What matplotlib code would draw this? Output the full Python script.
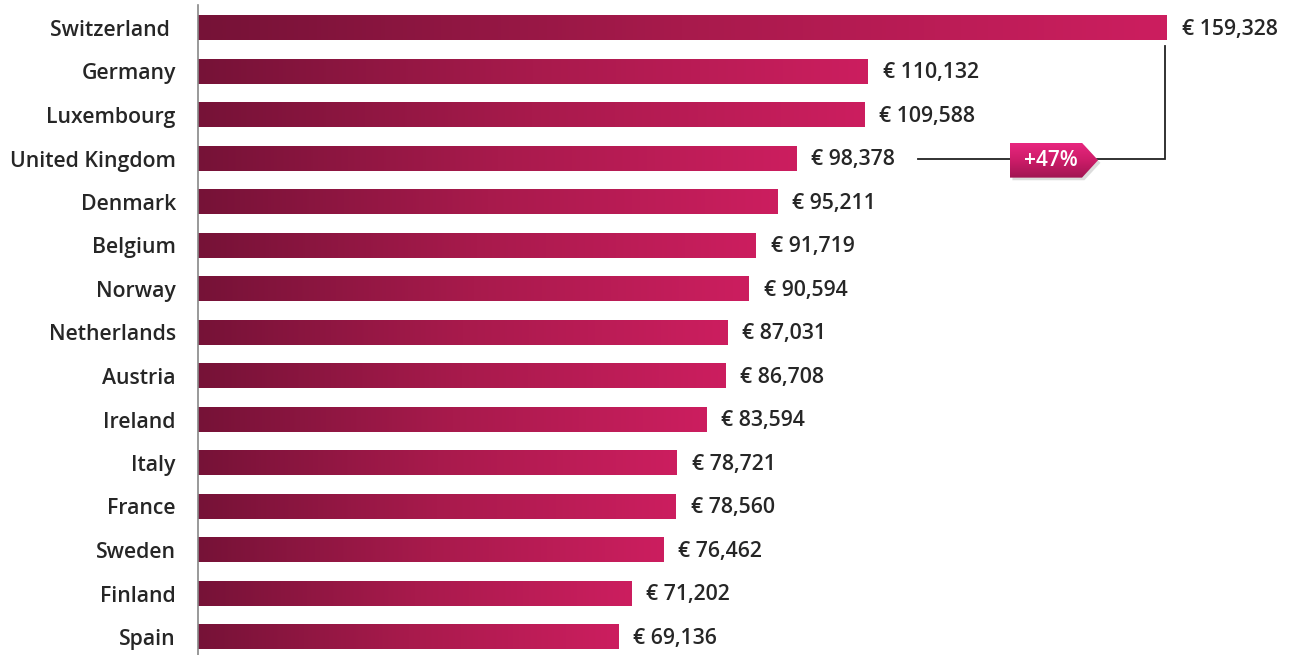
import matplotlib
matplotlib.use("Agg")
import matplotlib.pyplot as plt
import numpy as np
from matplotlib.colors import LinearSegmentedColormap
from matplotlib.patches import Polygon

countries = ["Switzerland ", "Germany", "Luxembourg", "United Kingdom", "Denmark",
             "Belgium", "Norway", "Netherlands", "Austria", "Ireland", "Italy",
             "France", "Sweden", "Finland", "Spain"]
values = [159328, 110132, 109588, 98378, 95211, 91719, 90594, 87031, 86708,
          83594, 78721, 78560, 76462, 71202, 69136]
badge_text = "+47%"

plt.rcParams['font.family'] = ['Open Sans', 'DejaVu Sans']

W, H = 1296, 655
fig = plt.figure(figsize=(W / 100, H / 100), dpi=100)
ax_left = 198 / W
ax = fig.add_axes([ax_left, 0, 1 - ax_left, 1])

px_per_unit = (1167 - 198) / 159328
xmax = (W - 198) / px_per_unit
row_top = 28
row_step = 43.5
ax.set_xlim(0, xmax)
ax.set_ylim((H - row_top) / row_step, -row_top / row_step)

cmap = LinearSegmentedColormap.from_list("g", ["#761237", "#a81a4c", "#cc1e5f"])
grad = np.linspace(0, 1, 256).reshape(1, -1)
bh = 0.57
fs = 15.3
fw = 'semibold'
tc = '#262626'
for i, (c, v) in enumerate(zip(countries, values)):
    ax.imshow(grad, cmap=cmap, aspect='auto',
              extent=(0, v, i + bh / 2, i - bh / 2), interpolation='bilinear', zorder=2)
    ax.text(v + 15 / px_per_unit, i + 0.03, f"€ {v:,}", va='center', ha='left',
            fontsize=fs, fontweight=fw, color=tc)

ax.set_yticks(range(len(countries)))
ax.set_yticklabels(countries, fontsize=fs, fontweight=fw, color=tc)
ax.tick_params(axis='y', length=0, pad=16)
ax.set_xticks([])
for s in ['top', 'right', 'bottom']:
    ax.spines[s].set_visible(False)
ax.spines['left'].set_color('#888888')
ax.spines['left'].set_linewidth(1.2)
ax.spines['left'].set_bounds((H - row_top) / row_step, (5 - row_top) / row_step)

# bracket
uk = 3
x_start = (918 - 198) / px_per_unit
x_br = values[0] - 2 / px_per_unit
y_top = 0 + bh / 2 + 0.12
ax.plot([x_start, x_br, x_br], [uk, uk, y_top], color='#222222', lw=1.3, zorder=3,
        solid_joinstyle='miter')

# badge
bx0 = (1010 - 198) / px_per_unit
bx1 = (1082 - 198) / px_per_unit
bx2 = (1098 - 198) / px_per_unit
by0 = uk - 0.36
by1 = uk + 0.44
ym = (by0 + by1) / 2
shadow = Polygon([(bx0 + 400, by0 + 0.06), (bx1 + 400, by0 + 0.06), (bx2 + 400, ym + 0.06),
                  (bx1 + 400, by1 + 0.06), (bx0 + 400, by1 + 0.06)],
                 closed=True, facecolor='#bbbbbb', edgecolor='none', alpha=0.5, zorder=4)
ax.add_patch(shadow)
poly = Polygon([(bx0, by0), (bx1, by0), (bx2, ym), (bx1, by1), (bx0, by1)],
               closed=True, facecolor='none', edgecolor='none', zorder=5)
ax.add_patch(poly)
vgrad = np.linspace(0, 1, 128).reshape(-1, 1)
bcmap = LinearSegmentedColormap.from_list("b", ["#e8267f", "#cc1c68", "#a01552"])
im = ax.imshow(vgrad, cmap=bcmap, aspect='auto', extent=(bx0, bx2, by1, by0),
               interpolation='bilinear', zorder=5)
im.set_clip_path(poly)
ax.text((bx0 + bx1) / 2 + 5 / px_per_unit, ym, badge_text, ha='center', va='center',
        color='white', fontsize=15, fontweight=fw, zorder=6)

fig.savefig("out.png", dpi=100)
